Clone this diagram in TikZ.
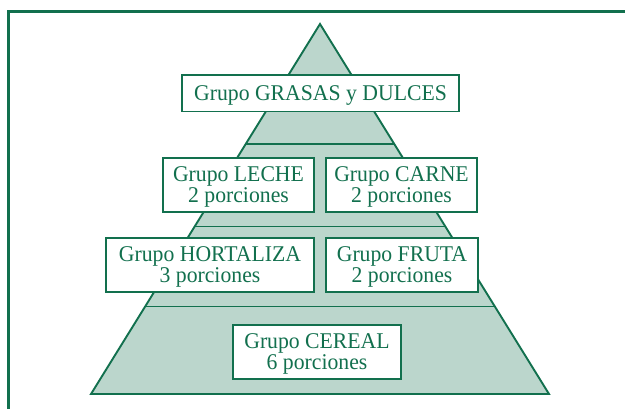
\documentclass[tikz,border=0pt]{standalone}
\usepackage{fontspec}
\setmainfont{Liberation Serif}[FakeStretch=0.965]
\usetikzlibrary{calc}
\definecolor{pgreen}{RGB}{18,112,78}
\definecolor{pfill}{RGB}{187,214,204}
\newcommand{\topstrut}{\rule{0pt}{18.5pt}}
\tikzset{
  frameline/.style={draw=pgreen, line width=2.6pt},
  pyr/.style={draw=pgreen, line width=1.9pt, fill=pfill, line join=miter},
  band/.style={draw=pgreen, line width=1.8pt},
  gbox/.style={draw=pgreen, line width=1.6pt, fill=white, text=pgreen, align=center,
     inner sep=0pt, font=\fontsize{22.5}{20.7}\selectfont},
}
\begin{document}
\begin{tikzpicture}[x=1pt,y=-1pt]
\useasboundingbox (0,0) rectangle (625,409);
% frame
\coordinate (fa) at (8.5,409);
\coordinate (fb) at (8.5,11.5);
\coordinate (fc) at (626,11.5);
\draw[frameline] (fa) -- (fb) -- (fc);
% pyramid
\coordinate (apex) at (320,24);
\coordinate (bl) at (91,394);
\coordinate (br) at (549,394);
\draw[pyr] (apex) -- (bl) -- (br) -- cycle;
\foreach \t/\n in {0.3243/a,0.5473/b,0.7635/c}{
  \coordinate (l\n) at ($(apex)!\t!(bl)$);
  \coordinate (r\n) at ($(apex)!\t!(br)$);
  \draw[band] (l\n) -- (r\n);
}
% boxes
\node[gbox, minimum width=277pt, minimum height=36.5pt] (grasas) at (320.5,93.25) {\topstrut Grupo GRASAS y DULCES};
\node[gbox, minimum width=151pt, minimum height=54pt] (leche) at (238.5,185) {\topstrut Grupo LECHE\\2 porciones};
\node[gbox, minimum width=151pt, minimum height=54pt] (carne) at (401.5,185) {\topstrut Grupo CARNE\\2 porciones};
\node[gbox, minimum width=208pt, minimum height=54pt] (hort) at (210,265) {\topstrut Grupo HORTALIZA\\3 porciones};
\node[gbox, minimum width=152pt, minimum height=54pt] (fruta) at (402,265) {\topstrut Grupo FRUTA\\2 porciones};
\node[gbox, minimum width=168pt, minimum height=54pt] (cereal) at (317,352) {\topstrut Grupo CEREAL\\6 porciones};
\end{tikzpicture}
\end{document}
